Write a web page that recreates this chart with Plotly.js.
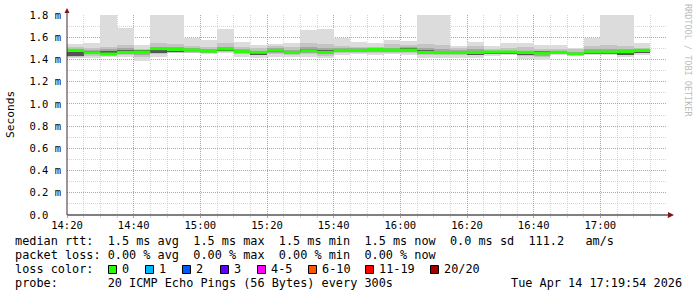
<!DOCTYPE html>
<html>
<head>
<meta charset="utf-8">
<script src="https://cdn.plot.ly/plotly-3.0.1.min.js"></script>
<style>html,body{margin:0;padding:0;background:#fff;}#chart{width:697px;height:297px;}</style>
</head>
<body>
<div id="chart"></div>
<script>
// ---- data (milliseconds) ----
const binStart = ["14:20","14:25","14:30","14:35","14:40","14:45","14:50","14:55","15:00","15:05","15:10","15:15",
  "15:20","15:25","15:30","15:35","15:40","15:45","15:50","15:55","16:00","16:05","16:10","16:15",
  "16:20","16:25","16:30","16:35","16:40","16:45","16:50","16:55","17:00","17:05","17:10"];
const medianRtt = [1.482,1.461,1.449,1.464,1.467,1.497,1.491,1.485,1.476,1.494,1.470,1.464,
  1.482,1.464,1.479,1.464,1.482,1.482,1.491,1.485,1.485,1.464,1.461,1.461,
  1.464,1.467,1.467,1.464,1.458,1.464,1.449,1.467,1.467,1.470,1.482];
const maxRtt = [1.539,1.551,1.800,1.683,1.530,1.800,1.800,1.596,1.575,1.674,1.554,1.530,
  1.540,1.550,1.665,1.674,1.596,1.554,1.545,1.575,1.566,1.800,1.800,1.520,
  1.557,1.524,1.550,1.545,1.530,1.530,1.506,1.590,1.800,1.800,1.545];
const minRtt = [1.410,1.410,1.420,1.420,1.389,1.420,1.455,1.455,1.446,1.455,1.425,1.410,
  1.425,1.425,1.425,1.410,1.440,1.446,1.440,1.446,1.440,1.410,1.410,1.410,
  1.410,1.430,1.440,1.404,1.395,1.440,1.440,1.440,1.440,1.420,1.440];
const innerHi = [1.515,1.500,1.510,1.530,1.490,1.550,1.540,1.520,1.510,1.550,1.510,1.500,
  1.520,1.510,1.550,1.540,1.520,1.515,1.515,1.540,1.530,1.540,1.530,1.500,
  1.520,1.490,1.500,1.510,1.490,1.490,1.490,1.520,1.530,1.520,1.505];
const innerLo = [1.425,1.430,1.430,1.440,1.420,1.450,1.460,1.460,1.455,1.470,1.450,1.440,
  1.450,1.440,1.450,1.430,1.455,1.455,1.460,1.460,1.460,1.440,1.440,1.440,
  1.440,1.445,1.445,1.430,1.420,1.445,1.445,1.450,1.450,1.440,1.455];
const coreHi = [1.495,1.485,1.490,1.500,1.480,1.515,1.510,1.500,1.490,1.515,1.490,1.480,
  1.500,1.485,1.510,1.500,1.500,1.500,1.505,1.505,1.510,1.500,1.490,1.485,
  1.490,1.475,1.480,1.480,1.478,1.480,1.470,1.490,1.495,1.490,1.495];
const coreLo = [1.432,1.445,1.440,1.452,1.440,1.462,1.468,1.470,1.462,1.475,1.455,1.445,
  1.460,1.450,1.460,1.445,1.465,1.465,1.470,1.468,1.470,1.450,1.448,1.448,
  1.445,1.450,1.450,1.440,1.435,1.452,1.440,1.448,1.448,1.445,1.460];
const denseHi = [1.470,1.478,1.480,1.482,1.482,1.485,1.480,null,null,1.486,null,1.455,
  1.475,null,1.495,1.485,null,null,null,null,1.505,1.485,null,1.480,
  1.450,1.455,1.455,1.452,1.475,null,null,1.455,1.455,1.457,1.470];
const denseLo = [1.432,1.468,1.458,1.474,1.474,1.460,1.465,null,null,1.475,null,1.440,
  1.465,null,1.465,1.475,null,null,null,null,1.495,1.475,null,1.472,
  1.440,1.446,1.446,1.443,1.465,null,null,1.445,1.445,1.440,1.455];

const xTickLabels = ["14:20","14:40","15:00","15:20","15:40","16:00","16:20","16:40","17:00"];
const yTickVals = [0,0.2,0.4,0.6,0.8,1.0,1.2,1.4,1.6,1.8];
const yTickText = ["0.0\u00a0\u00a0","0.2 m","0.4 m","0.6 m","0.8 m","1.0 m","1.2 m","1.4 m","1.6 m","1.8 m"];

const lossLabels = ["0","1","2","3","4-5","6-10","11-19","20/20"];
const lossColors = ["#26ff00","#00b8ff","#0059ff","#5e00ff","#ff00ff","#ff5500","#ff0000","#a10000"];

const statLine1 = "median rtt:  1.5 ms avg  1.5 ms max  1.5 ms min  1.5 ms now  0.0 ms sd  111.2   am/s";
const statLine2 = "packet loss: 0.00 % avg  0.00 % max  0.00 % min  0.00 % now";
const statLine3 = "loss color:";
const statLine4 = "probe:       20 ICMP Echo Pings (56 Bytes) every 300s";
const stampText = "Tue Apr 14 17:19:54 2026";
const sideText = "RRDTOOL / TOBI OETIKER";

// ---- helpers ----
const STEP = 300000;
function t(hm){const p=hm.split(":");return Date.UTC(2026,3,14,+p[0],+p[1]);}
const xs = binStart.map(t);
const L=67, T=15, W=600, H=200;
const px = x => (x-L)/W;
const py = y => (T+H-y)/H;
const nb = s => s.replace(/ /g,"\u00a0");
const MONO = "DejaVu Sans Mono";

function band(lo, hi, color){
  return {type:"bar", x:xs, base:lo, y:hi.map((v,i)=> (v==null||lo[i]==null)?null:v-lo[i]),
    width:STEP, offset:0, marker:{color:color, line:{width:0}}, hoverinfo:"skip", showlegend:false};
}
const medX=[], medY=[];
xs.forEach((x,i)=>{medX.push(x, x+STEP, null); medY.push(medianRtt[i], medianRtt[i], null);});

const traces = [
  band(minRtt, maxRtt, "#dcdcdc"),
  band(innerLo, innerHi, "#c4c4c4"),
  band(coreLo, coreHi, "#a6a6a6"),
  band(denseLo, denseHi, "#555555"),
  {type:"scatter", mode:"lines", x:medX, y:medY, line:{color:lossColors[0], width:3}, hoverinfo:"skip", showlegend:false, connectgaps:false}
];

const MG = "rgba(210,70,70,0.45)", G = "rgba(165,165,165,0.45)";
const ann = [];
function txt(x,y,s,opts){ann.push(Object.assign({xref:"paper",yref:"paper",x:px(x),y:py(y),text:nb(s),showarrow:false,
  xanchor:"left",yanchor:"middle",borderpad:0,borderwidth:0,font:{family:MONO,size:11.85,color:"#000"}},opts||{}));}
txt(15,241,statLine1);
txt(15,255,statLine2);
txt(15,269,statLine3);
txt(15,283,statLine4);
txt(682,283,stampText,{xanchor:"right"});
txt(10,115,"Seconds",{xanchor:"center",textangle:-90,font:{family:MONO,size:11.2,color:"#000"}});
txt(688,60,sideText,{xanchor:"center",textangle:90,font:{family:MONO,size:8.5,color:"#bcbcbc"}});

const boxX = [108,145.3,182.2,219.6,257,307.6,365.3,430];
const shapes = [];
lossLabels.forEach((lab,i)=>{
  const bx = Math.round(boxX[i])+0.5;
  shapes.push({type:"rect",xref:"paper",yref:"paper",x0:px(bx),x1:px(bx+8),y0:py(265.5),y1:py(273.5),
    fillcolor:lossColors[i],line:{color:"#000",width:1}});
  txt(boxX[i]+14,269,lab);
});
// axis lines and arrows
shapes.push({type:"line",xref:"paper",yref:"paper",x0:0,x1:px(668),y0:0,y1:0,line:{color:"#000",width:1}});
shapes.push({type:"line",xref:"paper",yref:"paper",x0:0,x1:0,y0:0,y1:py(12),line:{color:"#402828",width:1}});
shapes.push({type:"path",xref:"paper",yref:"paper",
  path:`M${px(674)},${py(215)} L${px(668)},${py(212)} L${px(668)},${py(218)} Z`,fillcolor:"#7f1515",line:{width:0}});
shapes.push({type:"path",xref:"paper",yref:"paper",
  path:`M${px(67)},${py(8)} L${px(64.5)},${py(13)} L${px(69.5)},${py(13)} Z`,fillcolor:"#7f1515",line:{width:0}});

const layout = {
  width:697, height:297,
  margin:{l:L, r:697-L-W, t:T, b:297-T-H, pad:0},
  paper_bgcolor:"#ffffff", plot_bgcolor:"#ffffff",
  showlegend:false, barmode:"overlay", bargap:0,
  xaxis:{type:"date", range:[t("14:20"), t("17:20")], tickmode:"array", tickvals:xTickLabels.map(t), ticktext:xTickLabels,
    showgrid:true, gridcolor:MG, griddash:"1px,1px", gridwidth:1, zeroline:false, showline:false,
    ticks:"outside", ticklen:2, tickcolor:MG, ticklabelstandoff:-2, tickfont:{family:MONO,size:10.5,color:"#000"},
    minor:{tick0:t("14:20"), dtick:STEP, showgrid:true, gridcolor:G, griddash:"1px,1px", ticks:"outside", ticklen:2, tickcolor:G},
    fixedrange:true},
  yaxis:{range:[0,1.8], tickmode:"array", tickvals:yTickVals, ticktext:yTickText,
    showgrid:true, gridcolor:MG, griddash:"1px,1px", zeroline:false, showline:false, ticks:"",
    ticklabelstandoff:5, tickfont:{family:MONO,size:10.5,color:"#000"},
    minor:{tick0:0, dtick:0.1, showgrid:true, gridcolor:G, griddash:"1px,1px"},
    fixedrange:true},
  annotations:ann, shapes:shapes
};
Plotly.newPlot("chart", traces, layout, {staticPlot:true, displayModeBar:false});
</script>
</body>
</html>
